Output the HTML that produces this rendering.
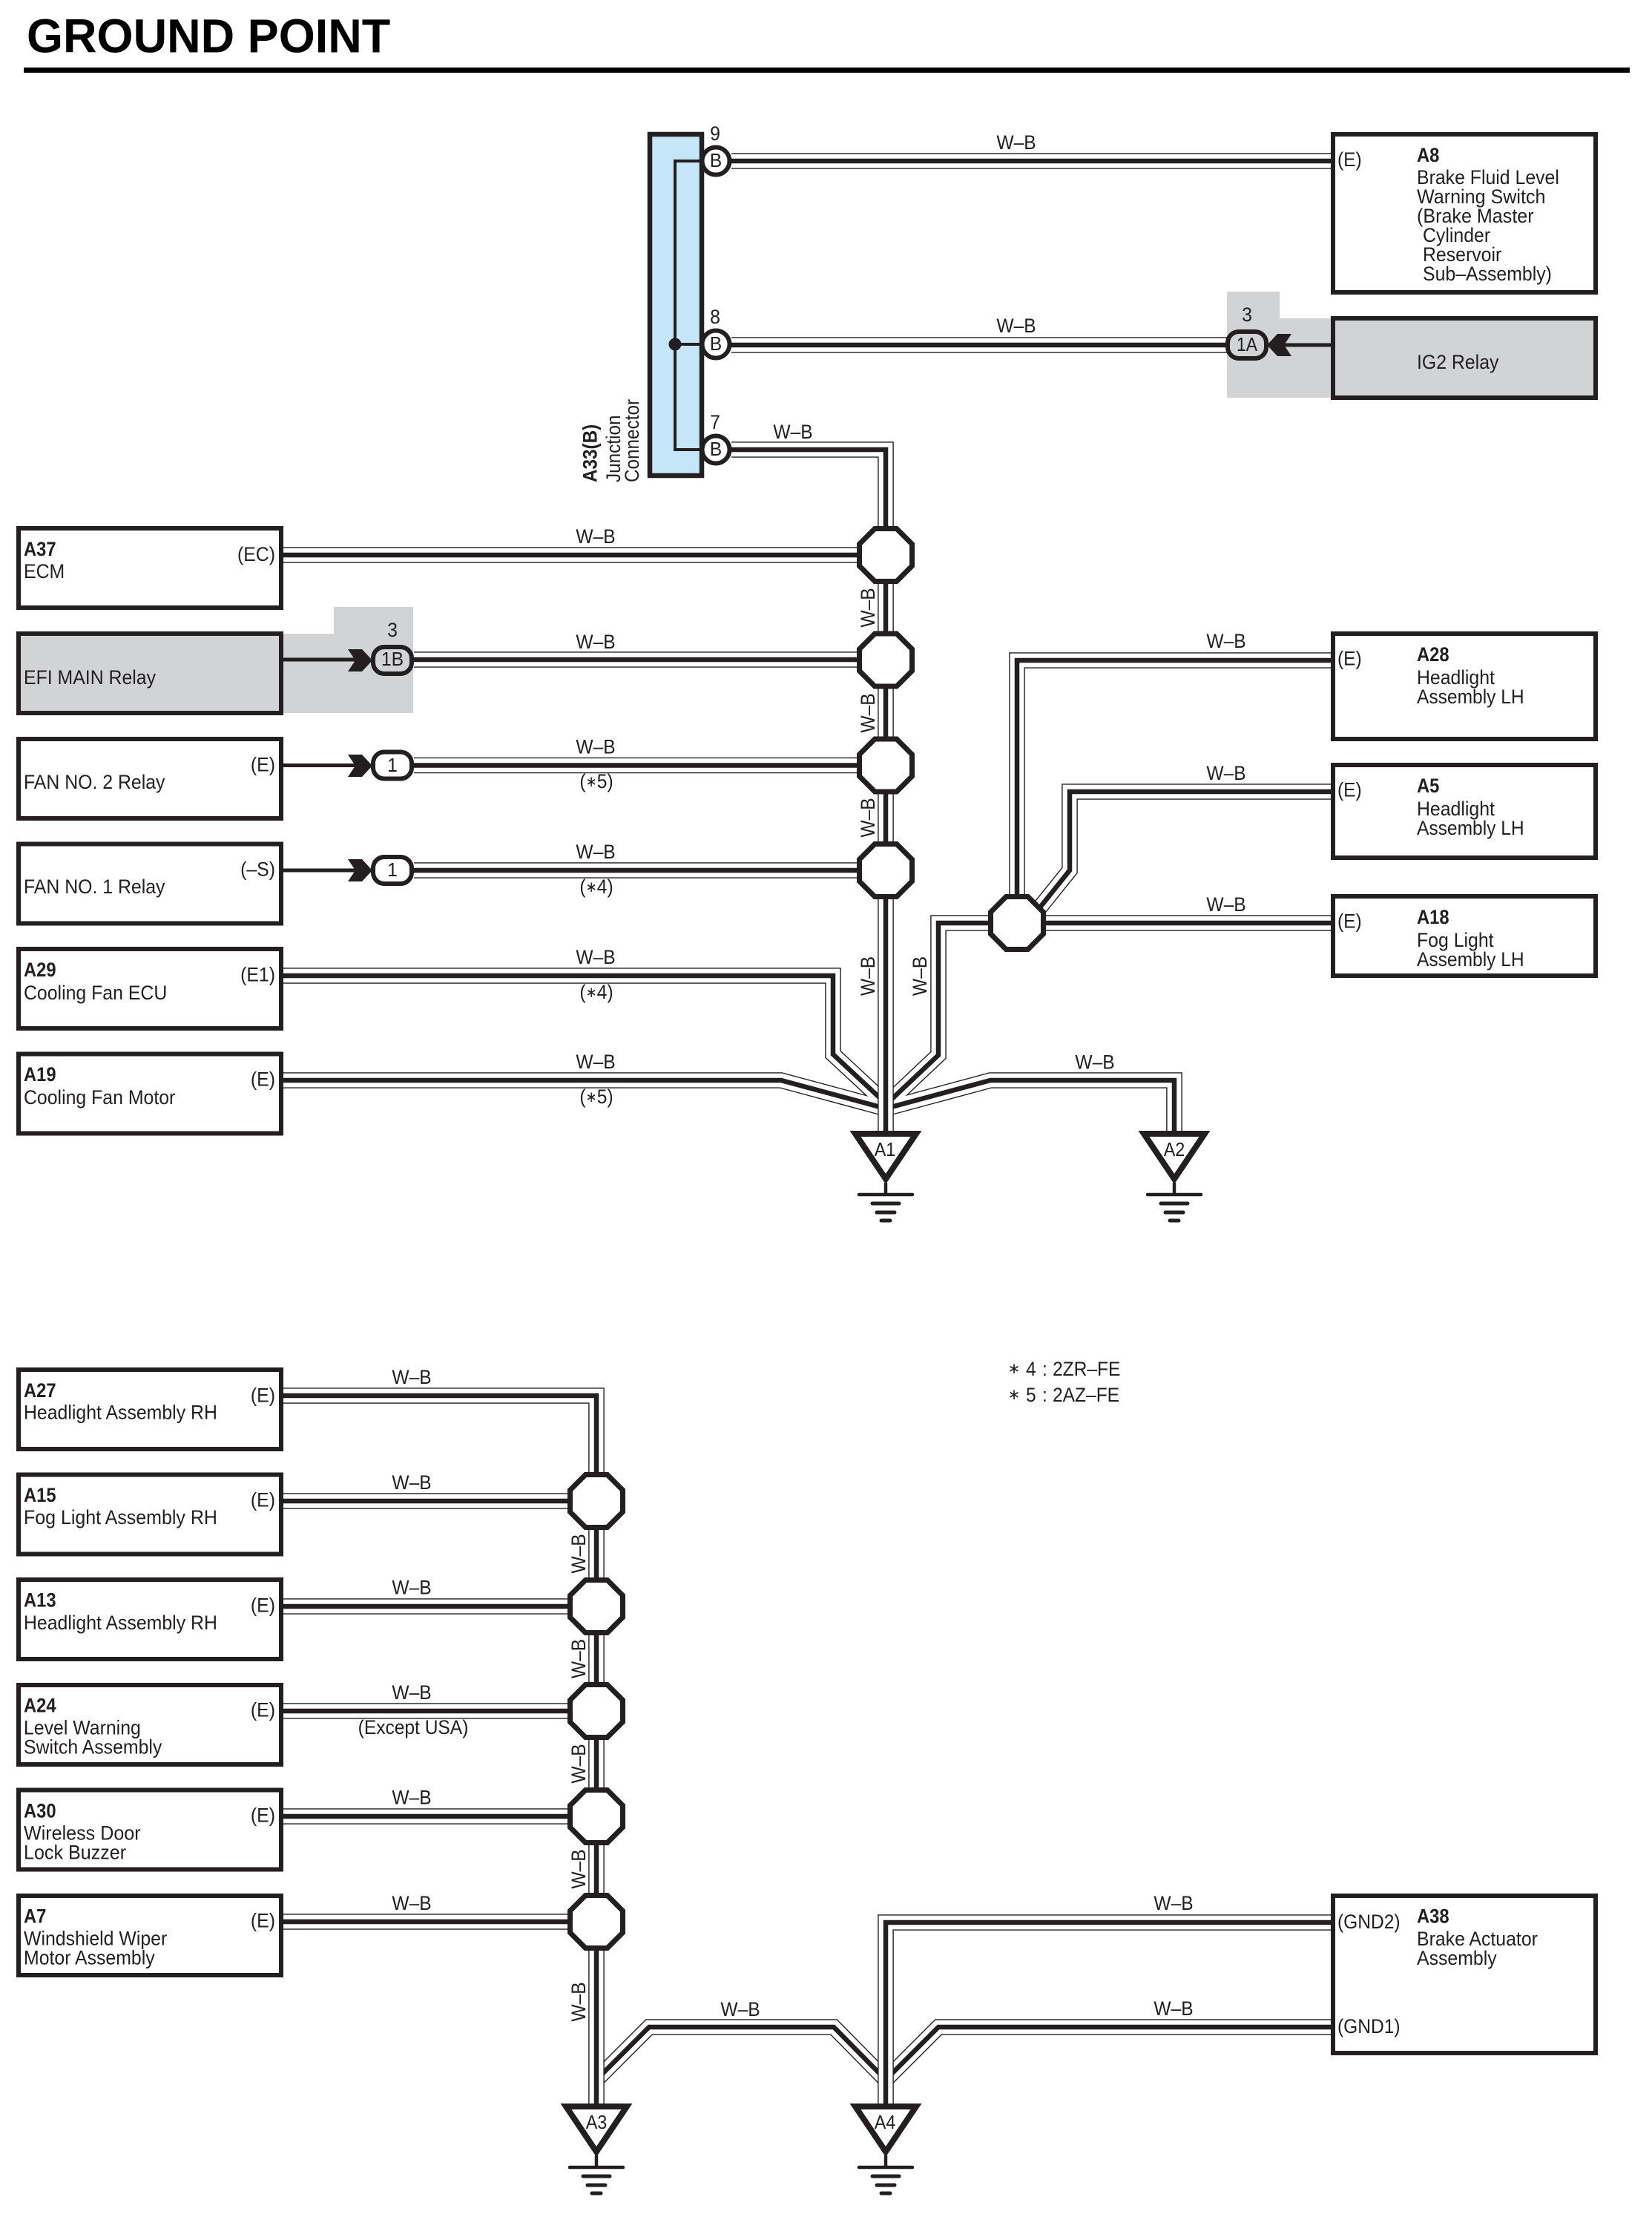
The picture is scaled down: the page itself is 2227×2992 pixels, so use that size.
<!DOCTYPE html>
<html lang="en">
<head>
<meta charset="utf-8">
<title>Ground Point</title>
<style>
html,body{margin:0;padding:0;background:#fff}
svg{display:block}
text{font-family:"Liberation Sans",sans-serif;font-size:27px;fill:#231f20}
.b{font-weight:bold}
.m{text-anchor:middle}
.e{text-anchor:end}
.s{font-size:26px}
.box{stroke:#231f20;stroke-width:6;fill:#fff}
.gr{fill:#d1d3d4}
.lead{stroke:#231f20;stroke-width:5;fill:none}
.ast{font-size:20px}
</style>
</head>
<body>
<svg xmlns="http://www.w3.org/2000/svg" width="2227" height="2992" viewBox="0 0 2227 2992">
<defs>
<path id="o" d="M-14.7 -35.5H14.7L35.5 -14.7V14.7L14.7 35.5H-14.7L-35.5 14.7V-14.7Z" fill="#fff" stroke="#231f20" stroke-width="7"/>
<g id="gnd" stroke="#231f20" fill="none" stroke-linecap="round">
<path d="M-41 4H41L0 65Z" fill="#fff" stroke-width="8" stroke-linecap="butt" stroke-miterlimit="10"/>
<path d="M0 70V86" stroke-width="4.5" stroke-linecap="butt"/>
<path d="M-36 86H36" stroke-width="4.5"/>
<path d="M-18 98H18" stroke-width="5"/>
<path d="M-12 110H12" stroke-width="5"/>
<path d="M-6 121H6" stroke-width="5"/>
</g>
<path id="chevR" d="M-60 -14H-41L-27 1L-41 16H-60L-50 1Z" fill="#231f20"/>
<g id="pin"><circle r="18.5" fill="#fff" stroke="#231f20" stroke-width="6"/></g>
<g id="wa" fill="none">
<path d="M382 1456H1053L1194 1494"/>
<path d="M382 1315H1123V1421L1194 1487"/>
<path d="M1340 1244H1265V1422L1194 1489"/>
<path d="M1583 1530V1456H1335L1194 1494"/>
<path d="M804 2803L875 2732H1124L1194 2803"/>
<path d="M1794 2732H1265L1194 2803"/>
</g>
<g id="wb" fill="none">
<path d="M986 217H1794"/>
<path d="M986 465H1654"/>
<path d="M986 606H1194V1530"/>
<path d="M382 748H1165"/>
<path d="M558 889H1165"/>
<path d="M558 1031.5H1165"/>
<path d="M558 1173H1165"/>
<path d="M1794 890H1371V1215"/>
<path d="M1794 1067H1442V1173L1385 1244"/>
<path d="M1794 1244H1400"/>
<path d="M382 1881H804V2836"/>
<path d="M382 2023H780"/>
<path d="M382 2165H780"/>
<path d="M382 2306H780"/>
<path d="M382 2448H780"/>
<path d="M382 2590H780"/>
<path d="M1794 2591H1194V2836"/>
</g>
</defs>

<rect width="2227" height="2992" fill="#fff"/>

<text class="b" transform="matrix(.985 0 0 1 36 70.500)" style="font-size:64px;fill:#000">GROUND POINT</text>
<rect x="32" y="91" width="2165" height="7" fill="#000"/>

<!-- gray backgrounds -->
<path class="gr" d="M1654 393H1725V429H1797V536H1654Z"/>
<path class="gr" d="M380 854H450V818H557V961H380Z"/>

<!-- wires -->
<use href="#wa" stroke="#231f20" stroke-width="21.6"/>
<use href="#wa" stroke="#fff" stroke-width="18.8"/>
<use href="#wa" stroke="#231f20" stroke-width="6.5"/>
<use href="#wb" stroke="#231f20" stroke-width="21.6"/>
<use href="#wb" stroke="#fff" stroke-width="18.8"/>
<use href="#wb" stroke="#231f20" stroke-width="6.5"/>

<!-- junction connector -->
<rect x="876" y="181" width="70" height="460" fill="#c5e6f9" stroke="#231f20" stroke-width="6.5"/>
<path d="M946 217H910V606H946M910 464H946" fill="none" stroke="#231f20" stroke-width="4"/>
<circle cx="910" cy="464" r="8.5" fill="#231f20"/>
<use href="#pin" x="965" y="217"/>
<use href="#pin" x="965" y="464"/>
<use href="#pin" x="965" y="606"/>
<text class="m s" transform="matrix(.95 0 0 1 965 225)">B</text>
<text class="m s" transform="matrix(.95 0 0 1 965 472)">B</text>
<text class="m s" transform="matrix(.95 0 0 1 965 614)">B</text>
<text class="m" transform="matrix(.92 0 0 1 964 189)">9</text>
<text class="m" transform="matrix(.92 0 0 1 964 436)">8</text>
<text class="m" transform="matrix(.92 0 0 1 964 578)">7</text>
<text class="b" transform="matrix(0 -.9 1 0 804.500 650)">A33(B)</text>
<text transform="matrix(0 -.9 1 0 836 650)">Junction</text>
<text transform="matrix(0 -.9 1 0 861 650)">Connector</text>

<!-- boxes right -->
<rect class="box" x="1797" y="181" width="354" height="213"/>
<rect class="box" x="1797" y="429" width="354" height="107" style="fill:#d1d3d4"/>
<rect class="box" x="1797" y="854" width="354" height="142"/>
<rect class="box" x="1797" y="1031" width="354" height="125"/>
<rect class="box" x="1797" y="1208" width="354" height="107"/>
<rect class="box" x="1797" y="2555" width="354" height="212"/>

<!-- boxes left upper -->
<rect class="box" x="25" y="712" width="354" height="107"/>
<rect class="box" x="25" y="854" width="354" height="107" style="fill:#d1d3d4"/>
<rect class="box" x="25" y="996" width="354" height="107"/>
<rect class="box" x="25" y="1137.5" width="354" height="107"/>
<rect class="box" x="25" y="1279" width="354" height="107"/>
<rect class="box" x="25" y="1420.5" width="354" height="107"/>

<!-- boxes left lower -->
<rect class="box" x="25" y="1846" width="354" height="107"/>
<rect class="box" x="25" y="1987.5" width="354" height="107"/>
<rect class="box" x="25" y="2129" width="354" height="107"/>
<rect class="box" x="25" y="2271" width="354" height="107"/>
<rect class="box" x="25" y="2412.5" width="354" height="107"/>
<rect class="box" x="25" y="2555" width="354" height="107"/>

<!-- leads and connectors -->
<path class="lead" d="M382 889H480M382 1031.5H480M382 1173H480M1794 465H1730"/>
<use href="#chevR" x="529" y="889"/>
<use href="#chevR" x="529" y="1031"/>
<use href="#chevR" x="529" y="1172"/>
<g transform="translate(2210 465) scale(-1 1)"><use href="#chevR" x="529" y="-1"/></g>
<rect x="503" y="872" width="52" height="36" rx="15" fill="#d1d3d4" stroke="#231f20" stroke-width="6"/>
<rect x="503" y="1013.500" width="52" height="36" rx="15" fill="#fff" stroke="#231f20" stroke-width="6"/>
<rect x="503" y="1155" width="52" height="36" rx="15" fill="#fff" stroke="#231f20" stroke-width="6"/>
<rect x="1655" y="447" width="52" height="36" rx="15" fill="#d1d3d4" stroke="#231f20" stroke-width="6"/>
<text class="m s" transform="matrix(.95 0 0 1 529 897)">1B</text>
<text class="m s" transform="matrix(.95 0 0 1 529 1040)">1</text>
<text class="m s" transform="matrix(.95 0 0 1 529 1181)">1</text>
<text class="m s" transform="matrix(.88 0 0 1 1681 473)">1A</text>
<text class="m" transform="matrix(.92 0 0 1 529 858)">3</text>
<text class="m" transform="matrix(.92 0 0 1 1681 433)">3</text>

<!-- octagons -->
<use href="#o" x="1194" y="748"/>
<use href="#o" x="1194" y="889.500"/>
<use href="#o" x="1194" y="1031.500"/>
<use href="#o" x="1194" y="1173"/>
<use href="#o" x="1371" y="1244"/>
<use href="#o" x="804" y="2023"/>
<use href="#o" x="804" y="2165"/>
<use href="#o" x="804" y="2306"/>
<use href="#o" x="804" y="2448"/>
<use href="#o" x="804" y="2590"/>

<!-- grounds -->
<use href="#gnd" x="1194" y="1524"/>
<use href="#gnd" x="1583" y="1524"/>
<use href="#gnd" x="804" y="2835"/>
<use href="#gnd" x="1194" y="2835"/>
<text class="m s" transform="matrix(.9 0 0 1 1193 1558)">A1</text>
<text class="m s" transform="matrix(.9 0 0 1 1583 1558)">A2</text>
<text class="m s" transform="matrix(.9 0 0 1 804 2869)">A3</text>
<text class="m s" transform="matrix(.9 0 0 1 1193 2869)">A4</text>

<!-- horizontal W-B labels -->
<text class="m" transform="matrix(.91 0 0 1 1370 201)">W–B</text>
<text class="m" transform="matrix(.91 0 0 1 1370 448)">W–B</text>
<text class="m" transform="matrix(.91 0 0 1 1069 591)">W–B</text>
<text class="m" transform="matrix(.91 0 0 1 803 732)">W–B</text>
<text class="m" transform="matrix(.91 0 0 1 803 874)">W–B</text>
<text class="m" transform="matrix(.91 0 0 1 803 1015.500)">W–B</text>
<text class="m" transform="matrix(.91 0 0 1 803 1157)">W–B</text>
<text class="m" transform="matrix(.91 0 0 1 803 1299)">W–B</text>
<text class="m" transform="matrix(.91 0 0 1 803 1440)">W–B</text>
<text class="m" transform="matrix(.91 0 0 1 1653 873)">W–B</text>
<text class="m" transform="matrix(.91 0 0 1 1653 1051)">W–B</text>
<text class="m" transform="matrix(.91 0 0 1 1653 1228)">W–B</text>
<text class="m" transform="matrix(.91 0 0 1 1476 1440.500)">W–B</text>
<text class="m" transform="matrix(.91 0 0 1 555 1865)">W–B</text>
<text class="m" transform="matrix(.91 0 0 1 555 2007)">W–B</text>
<text class="m" transform="matrix(.91 0 0 1 555 2148.500)">W–B</text>
<text class="m" transform="matrix(.91 0 0 1 555 2290)">W–B</text>
<text class="m" transform="matrix(.91 0 0 1 555 2431.500)">W–B</text>
<text class="m" transform="matrix(.91 0 0 1 555 2574)">W–B</text>
<text class="m" transform="matrix(.91 0 0 1 998 2717)">W–B</text>
<text class="m" transform="matrix(.91 0 0 1 1582 2574)">W–B</text>
<text class="m" transform="matrix(.91 0 0 1 1582 2716)">W–B</text>

<!-- vertical W-B labels -->
<text class="m" transform="matrix(0 -.91 1 0 1179 819)">W–B</text>
<text class="m" transform="matrix(0 -.91 1 0 1179 961)">W–B</text>
<text class="m" transform="matrix(0 -.91 1 0 1179 1102)">W–B</text>
<text class="m" transform="matrix(0 -.91 1 0 1179 1315.500)">W–B</text>
<text class="m" transform="matrix(0 -.91 1 0 1249 1315.500)">W–B</text>
<text class="m" transform="matrix(0 -.91 1 0 789 2094)">W–B</text>
<text class="m" transform="matrix(0 -.91 1 0 789 2235.500)">W–B</text>
<text class="m" transform="matrix(0 -.91 1 0 789 2377)">W–B</text>
<text class="m" transform="matrix(0 -.91 1 0 789 2519)">W–B</text>
<text class="m" transform="matrix(0 -.91 1 0 789 2698)">W–B</text>

<!-- sub notes -->
<text class="m" transform="matrix(.91 0 0 1 804 1062)">(<tspan class="ast" dy="-2">∗</tspan><tspan dy="2">5)</tspan></text>
<text class="m" transform="matrix(.91 0 0 1 804 1204)">(<tspan class="ast" dy="-2">∗</tspan><tspan dy="2">4)</tspan></text>
<text class="m" transform="matrix(.91 0 0 1 804 1346)">(<tspan class="ast" dy="-2">∗</tspan><tspan dy="2">4)</tspan></text>
<text class="m" transform="matrix(.91 0 0 1 804 1487)">(<tspan class="ast" dy="-2">∗</tspan><tspan dy="2">5)</tspan></text>
<text class="m" transform="matrix(.91 0 0 1 557 2337)">(Except USA)</text>

<!-- legend -->
<text class="m ast" transform="matrix(1 0 0 1 1367 1851)">∗</text>
<text transform="matrix(.91 0 0 1 1383 1854)">4</text>
<text transform="matrix(.91 0 0 1 1405 1854)">:</text>
<text transform="matrix(.91 0 0 1 1419 1854)">2ZR–FE</text>
<text class="m ast" transform="matrix(1 0 0 1 1367 1886)">∗</text>
<text transform="matrix(.91 0 0 1 1383 1889)">5</text>
<text transform="matrix(.91 0 0 1 1405 1889)">:</text>
<text transform="matrix(.91 0 0 1 1419 1889)">2AZ–FE</text>

<!-- right box text -->
<text transform="matrix(.91 0 0 1 1803 224)">(E)</text>
<text class="b" transform="matrix(.88 0 0 1 1910 218)">A8</text>
<text transform="matrix(.92 0 0 1 1910 248)">Brake Fluid Level</text>
<text transform="matrix(.93 0 0 1 1910 274)">Warning Switch</text>
<text transform="matrix(.93 0 0 1 1910 300)">(Brake Master</text>
<text transform="matrix(.92 0 0 1 1918 326)">Cylinder</text>
<text transform="matrix(.92 0 0 1 1918 352)">Reservoir</text>
<text transform="matrix(.92 0 0 1 1918 378)">Sub–Assembly)</text>
<text transform="matrix(.92 0 0 1 1910 497)">IG2 Relay</text>

<text transform="matrix(.91 0 0 1 1803 896.500)">(E)</text>
<text class="b" transform="matrix(.88 0 0 1 1910 891)">A28</text>
<text transform="matrix(.92 0 0 1 1910 922)">Headlight</text>
<text transform="matrix(.91 0 0 1 1910 948)">Assembly LH</text>

<text transform="matrix(.91 0 0 1 1803 1073.500)">(E)</text>
<text class="b" transform="matrix(.88 0 0 1 1910 1068)">A5</text>
<text transform="matrix(.92 0 0 1 1910 1099)">Headlight</text>
<text transform="matrix(.91 0 0 1 1910 1125)">Assembly LH</text>

<text transform="matrix(.91 0 0 1 1803 1250.500)">(E)</text>
<text class="b" transform="matrix(.88 0 0 1 1910 1245)">A18</text>
<text transform="matrix(.92 0 0 1 1910 1276)">Fog Light</text>
<text transform="matrix(.91 0 0 1 1910 1302)">Assembly LH</text>

<text transform="matrix(.91 0 0 1 1803 2599)">(GND2)</text>
<text transform="matrix(.91 0 0 1 1803 2740)">(GND1)</text>
<text class="b" transform="matrix(.88 0 0 1 1910 2591.500)">A38</text>
<text transform="matrix(.92 0 0 1 1910 2622)">Brake Actuator</text>
<text transform="matrix(.92 0 0 1 1910 2648)">Assembly</text>

<!-- left upper text -->
<text class="b" transform="matrix(.88 0 0 1 32 749)">A37</text>
<text transform="matrix(.92 0 0 1 32 779)">ECM</text>
<text class="e" transform="matrix(.92 0 0 1 371 756)">(EC)</text>
<text transform="matrix(.92 0 0 1 32 922)">EFI MAIN Relay</text>
<text transform="matrix(.92 0 0 1 32 1063)">FAN NO. 2 Relay</text>
<text class="e" transform="matrix(.92 0 0 1 371 1039.500)">(E)</text>
<text transform="matrix(.92 0 0 1 32 1204)">FAN NO. 1 Relay</text>
<text class="e" transform="matrix(.92 0 0 1 371 1180.500)">(–S)</text>
<text class="b" transform="matrix(.88 0 0 1 32 1316)">A29</text>
<text transform="matrix(.92 0 0 1 32 1347)">Cooling Fan ECU</text>
<text class="e" transform="matrix(.92 0 0 1 371 1322.500)">(E1)</text>
<text class="b" transform="matrix(.88 0 0 1 32 1457)">A19</text>
<text transform="matrix(.92 0 0 1 32 1488)">Cooling Fan Motor</text>
<text class="e" transform="matrix(.92 0 0 1 371 1463.500)">(E)</text>

<!-- left lower text -->
<text class="b" transform="matrix(.88 0 0 1 32 1883)">A27</text>
<text transform="matrix(.92 0 0 1 32 1912.500)">Headlight Assembly RH</text>
<text class="e" transform="matrix(.92 0 0 1 371 1889.500)">(E)</text>
<text class="b" transform="matrix(.88 0 0 1 32 2024)">A15</text>
<text transform="matrix(.925 0 0 1 32 2054)">Fog Light Assembly RH</text>
<text class="e" transform="matrix(.92 0 0 1 371 2030.500)">(E)</text>
<text class="b" transform="matrix(.88 0 0 1 32 2165.500)">A13</text>
<text transform="matrix(.92 0 0 1 32 2196)">Headlight Assembly RH</text>
<text class="e" transform="matrix(.92 0 0 1 371 2172.500)">(E)</text>
<text class="b" transform="matrix(.88 0 0 1 32 2307.500)">A24</text>
<text transform="matrix(.92 0 0 1 32 2337.500)">Level Warning</text>
<text transform="matrix(.92 0 0 1 32 2363.500)">Switch Assembly</text>
<text class="e" transform="matrix(.92 0 0 1 371 2313.500)">(E)</text>
<text class="b" transform="matrix(.88 0 0 1 32 2449.500)">A30</text>
<text transform="matrix(.93 0 0 1 32 2479.500)">Wireless Door</text>
<text transform="matrix(.93 0 0 1 32 2505.500)">Lock Buzzer</text>
<text class="e" transform="matrix(.92 0 0 1 371 2455.500)">(E)</text>
<text class="b" transform="matrix(.88 0 0 1 32 2591.500)">A7</text>
<text transform="matrix(.92 0 0 1 32 2621.500)">Windshield Wiper</text>
<text transform="matrix(.92 0 0 1 32 2647.500)">Motor Assembly</text>
<text class="e" transform="matrix(.92 0 0 1 371 2597.500)">(E)</text>
</svg>
</body>
</html>
